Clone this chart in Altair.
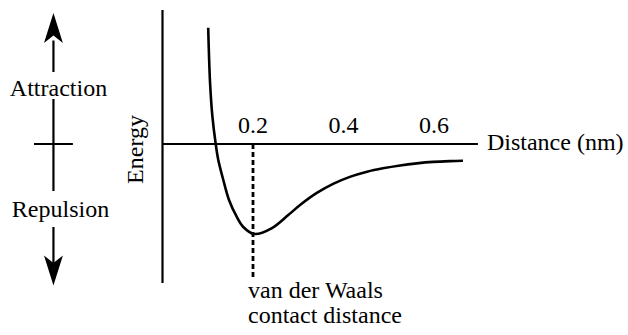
import altair as alt
import pandas as pd

# Interaction energy between two atoms as a function of their separation
distance_nm = [0.101, 0.105, 0.110, 0.1176, 0.1233, 0.1344, 0.147, 0.164, 0.178,
               0.203, 0.241, 0.278, 0.304, 0.341, 0.377, 0.414, 0.452, 0.487,
               0.525, 0.562, 0.598, 0.635, 0.664]
energy = [1.292, 0.692, 0.322, 0.0, -0.178, -0.40, -0.622, -0.808, -0.919,
          -1.0, -0.937, -0.789, -0.678, -0.544, -0.443, -0.365, -0.308, -0.270,
          -0.238, -0.215, -0.199, -0.190, -0.186]

# Distance axis ticks and the van der Waals contact distance
tick_values = [0.2, 0.4, 0.6]
tick_labels = ["0.2", "0.4", "0.6"]
contact_distance = 0.2

FONT = "Liberation Serif"
FS = 24
X_DOMAIN = [-0.3591, 1.0287]
Y_DOMAIN = [-2.1222, 1.6]

xs = alt.Scale(domain=X_DOMAIN, nice=False, zero=False)
ys = alt.Scale(domain=Y_DOMAIN, nice=False, zero=False)


def X(field="x"):
    return alt.X(f"{field}:Q", scale=xs, axis=None)


def Y(field="y"):
    return alt.Y(f"{field}:Q", scale=ys, axis=None)


curve_df = pd.DataFrame({"x": distance_nm, "y": energy})
curve = alt.Chart(curve_df).mark_line(
    color="black", strokeWidth=2.6, interpolate="catmull-rom"
).encode(x=X(), y=Y(), order="x:Q")

# Plot axes: vertical energy axis and horizontal distance axis
axes_df = pd.DataFrame({
    "x": [0.0, 0.0],
    "x2": [0.0, 0.697],
    "y": [1.489, 0.0],
    "y2": [-1.544, 0.0],
})
axes = alt.Chart(axes_df).mark_rule(color="black", strokeWidth=2.2).encode(
    x=X(), x2="x2:Q", y=Y(), y2="y2:Q"
)

# Dashed guide down from the energy minimum
guide_df = pd.DataFrame({"x": [contact_distance], "y": [0.0], "y2": [-1.489]})
guide = alt.Chart(guide_df).mark_rule(
    color="black", strokeWidth=2.8, strokeDash=[5, 3]
).encode(x=X(), y=Y(), y2="y2:Q")

# Attraction / repulsion indicator on the left
ARROW_X = -0.241
ind_df = pd.DataFrame({
    "x": [ARROW_X, ARROW_X, ARROW_X, -0.284],
    "x2": [ARROW_X, ARROW_X, ARROW_X, -0.198],
    "y": [0.80, 0.50, -0.922, 0.0],
    "y2": [1.15, -0.522, -1.36, 0.0],
})
indicator = alt.Chart(ind_df).mark_rule(color="black", strokeWidth=2.2).encode(
    x=X(), x2="x2:Q", y=Y(), y2="y2:Q"
)

up_head = alt.Chart(pd.DataFrame({"x": [ARROW_X], "y": [1.289]})).mark_point(
    shape="M0,-1 L0.63,1 L0,0.5 L-0.63,1 Z", filled=True, size=900,
    color="black", opacity=1, strokeWidth=0
).encode(x=X(), y=Y())
down_head = alt.Chart(pd.DataFrame({"x": [ARROW_X], "y": [-1.406]})).mark_point(
    shape="M0,1 L0.63,-1 L0,-0.5 L-0.63,-1 Z", filled=True, size=900,
    color="black", opacity=1, strokeWidth=0
).encode(x=X(), y=Y())

# Centered labels: indicator words and distance tick labels
center_df = pd.DataFrame({
    "x": [-0.2298, -0.2254] + tick_values,
    "y": [0.533, -0.811] + [0.122] * len(tick_values),
    "t": ["Attraction", "Repulsion"] + tick_labels,
})
center_text = alt.Chart(center_df).mark_text(
    font=FONT, fontSize=FS, align="center", baseline="alphabetic", color="black"
).encode(x=X(), y=Y(), text="t:N")

# Left-aligned labels: axis title and minimum annotation
left_df = pd.DataFrame({
    "x": [0.717, 0.189, 0.189],
    "y": [-0.067, -1.711, -1.989],
    "t": ["Distance (nm)", "van der Waals", "contact distance"],
})
left_text = alt.Chart(left_df).mark_text(
    font=FONT, fontSize=FS, align="left", baseline="alphabetic", color="black"
).encode(x=X(), y=Y(), text="t:N")

energy_title = alt.Chart(pd.DataFrame({"x": [-0.042], "y": [-0.061], "t": ["Energy"]})).mark_text(
    font=FONT, fontSize=FS, align="center", baseline="alphabetic", angle=270, color="black"
).encode(x=X(), y=Y(), text="t:N")

chart = alt.layer(
    axes, guide, indicator, up_head, down_head, curve,
    center_text, left_text, energy_title
).properties(
    width=628, height=335, padding=0,
    autosize=alt.AutoSizeParams(type="none"),
    background="white",
).configure_view(stroke=None)

chart.save("out.html", embed_options={"renderer": "svg", "actions": False})
